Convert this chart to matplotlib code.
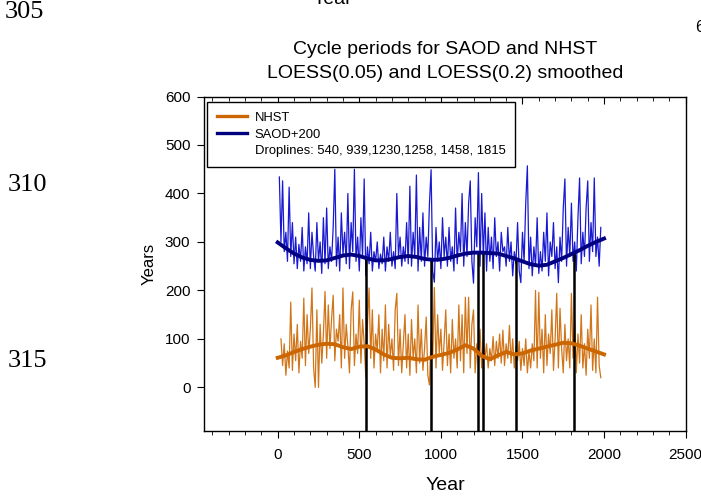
import numpy as np
import matplotlib.pyplot as plt
from matplotlib.lines import Line2D
from matplotlib.ticker import MultipleLocator

plt.rcParams['font.family'] = 'Liberation Sans'

# Years of the noisy series (10 year steps)
years = np.arange(0, 2001, 10)

# NHST cycle periods (LOESS 0.05)
nhst = [np.nan, np.nan, 100, 45, 90, 25, 75, 40, 176, 35,
        110, 55, 130, 30, 95, 60, 184, 45, 150, 70,
        120, 205, 40, 0, 160, 0, 130, 50, 110, 198,
        60, 170, 80, 140, 190, 55, 120, 95, 150, 40,
        205, 60, 130, 85, 30, 160, 197, 45, 110, 70,
        180, 50, 140, 90, 20, 130, 205, 60, 160, 40,
        110, 75, 150, 30, 120, 55, 170, 40, 130, 65,
        100, 35, 160, 194, 45, 120, 30, 90, 150, 40,
        110, 25, 140, 60, 100, 30, 170, 50, 120, 35,
        80, 145, 25, 5, 110, 60, 206, 40, 150, 70,
        120, 35, 95, 160, 45, 110, 30, 140, 60, 100,
        40, 170, 55, 150, 30, 186, 70, 186, 40, 130,
        160, 30, 90, 50, 120, 40, 100, 60, 90, 40,
        80, 55, 105, 45, 95, 60, 110, 50, 118, 45,
        90, 60, 128, 50, 100, 40, 85, 55, 95, 35,
        80, 45, 100, 30, 75, 40, 90, 55, 200, 40,
        196, 60, 120, 30, 150, 45, 110, 70, 160, 35,
        100, 194, 40, 163, 80, 30, 130, 55, 100, 40,
        194, 60, 140, 30, 110, 50, 150, 40, 90, 25,
        120, 60, 170, 35, 100, 30, 186, 45, 20, np.nan,
        18]

# SAOD cycle periods (LOESS 0.05), plotted with +200 offset
saod = [np.nan, 234, 100, 226, 80, 120, 60, 213, 70, 140,
        55, 110, 45, 95, 60, 130, 40, 90, 55, 160,
        45, 120, 70, 40, 140, 60, 100, 35, 150, 55,
        170, 45, 90, 60, 130, 250, 50, 110, 40, 160,
        75, 120, 55, 200, 45, 140, 80, 250, 60, 110,
        40, 150, 70, 230, 30, 90, 55, 120, 40, 80,
        60, 100, 45, 75, 55, 110, 40, 90, 60, 120,
        50, 80, 45, 200, 70, 110, 50, 90, 60, 140,
        55, 215, 50, 120, 70, 238, 40, 130, 60, 160,
        50, 110, 70, 180, 249, 40, 17, 130, 60, 100,
        45, 150, 70, 110, 50, 130, 60, 90, 40, 170,
        55, 120, 80, 200, 50, 140, 70, 180, 226, 60,
        15, 150, 90, 243, 50, 200, 70, 160, 40, 130,
        60, 110, 45, 150, 70, 100, 40, 120, 80, 90,
        50, 130, 60, 100, 30, 80, 55, 140, 40, 16,
        120, 60, 180, 257, 45, 110, 30, 90, 50, 150,
        35, 80, 40, 120, 60, 160, 30, 100, 70, 140,
        45, 90, 16, 110, 60, 170, 230, 50, 130, 70,
        180, 60, 100, 40, 150, 232, 55, 120, 70, 170,
        226, 60, 140, 80, 232, 70, 110, 50, 130, np.nan,
        16]

# LOESS(0.2) smoothed curves, 50 year steps
smooth_years = np.arange(0, 2001, 50)
nhst_smooth = [61, 66, 73, 79, 84, 88, 90, 89, 83, 79,
               84, 85, 78, 68, 61, 60, 61, 58, 57, 63,
               67, 71, 78, 87, 80, 65, 58, 66, 73, 68,
               70, 76, 80, 84, 88, 92, 91, 86, 80, 74, 68]
saod_smooth = [299, 287, 276, 268, 263, 261, 262, 267, 272, 274,
               271, 266, 262, 262, 265, 269, 271, 269, 265, 263,
               264, 267, 272, 276, 278, 278, 277, 276, 271, 266,
               260, 254, 251, 253, 260, 267, 275, 283, 292, 300, 307]

# Droplines
drop_years = [540, 939, 1230, 1258, 1458, 1815]
drop_tops = [266, 263, 278, 278, 266, 277]

orange = '#CC6600'
blue = '#0000CC'
navy = '#000080'

fig = plt.figure(figsize=(7.01, 4.97), dpi=100)
ax = fig.add_axes([0.2914, 0.1328, 0.6867, 0.673])

ax.plot(years, nhst, color=orange, lw=0.9, alpha=0.9, zorder=2)
ax.plot(years, np.array(saod) + 200, color=blue, lw=0.9, alpha=0.9, zorder=2)
ax.vlines(drop_years, -90, drop_tops, color='black', lw=1.8, zorder=3)
ax.plot(smooth_years, nhst_smooth, color=orange, lw=2.8, zorder=4)
ax.plot(smooth_years, saod_smooth, color=navy, lw=2.8, zorder=4)

ax.set_xlim(-450, 2500)
ax.set_ylim(-90, 600)
ax.set_xticks([0, 500, 1000, 1500, 2000, 2500])
ax.xaxis.set_minor_locator(MultipleLocator(100))
ax.set_yticks([0, 100, 200, 300, 400, 500, 600])
ax.tick_params(axis='x', which='major', direction='out', length=5, labelsize=11, pad=7,
               top=True)
ax.tick_params(axis='x', which='minor', direction='out', length=3, top=True)
ax.tick_params(axis='y', direction='out', length=5, labelsize=11, pad=5)
for t in ax.xaxis.get_ticklines(minor=False)[1::2] + ax.xaxis.get_ticklines(minor=True)[1::2]:
    t.set_marker(3)
for s in ax.spines.values():
    s.set_linewidth(1.0)

ax.set_xlabel('Year', fontsize=14, labelpad=11)
ax.set_ylabel('Years', fontsize=12, labelpad=6)
ax.set_title('Cycle periods for SAOD and NHST\nLOESS(0.05) and LOESS(0.2) smoothed',
             fontsize=14, pad=13, linespacing=1.55)

handles = [Line2D([], [], color=orange, lw=2.4),
           Line2D([], [], color=navy, lw=2.4),
           Line2D([], [], color='none')]
labels = ['NHST', 'SAOD+200', 'Droplines: 540, 939,1230,1258, 1458, 1815']
leg = ax.legend(handles, labels, loc='upper left', bbox_to_anchor=(0.0056, 0.984),
                borderaxespad=0, fontsize=9.4, handlelength=2.3, handletextpad=0.6,
                labelspacing=0.35, fancybox=False, framealpha=1, edgecolor='black',
                borderpad=0.75)
leg.get_frame().set_linewidth(1.0)
leg.set_zorder(10)

# fragments of the surrounding page
fig.text(5 / 701, 1 - 12 / 497, '305', fontsize=19, family='Liberation Serif', va='center')
fig.text(8 / 701, 1 - 185 / 497, '310', fontsize=19, family='Liberation Serif', va='center')
fig.text(8 / 701, 1 - 361 / 497, '315', fontsize=19, family='Liberation Serif', va='center')
fig.text(332 / 701, 1 - 4 / 497, 'Year', fontsize=14, ha='center', va='baseline')
fig.text(695 / 701, 1 - 27 / 497, '6', fontsize=12, va='center')

fig.savefig('out.png', dpi=100)
